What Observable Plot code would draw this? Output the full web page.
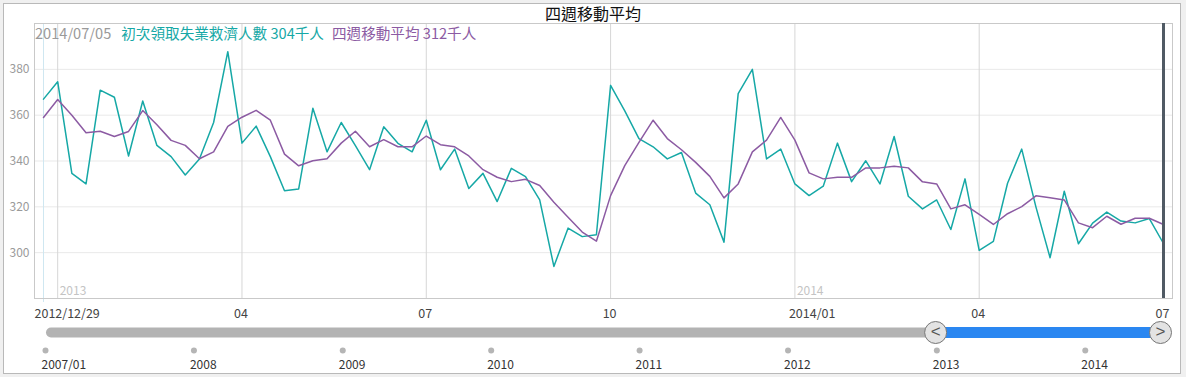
<!DOCTYPE html>
<html><head><meta charset="utf-8">
<script src="https://cdn.jsdelivr.net/npm/d3@7"></script>
<script src="https://cdn.jsdelivr.net/npm/@observablehq/plot@0.6"></script>
<style>
html,body{margin:0;padding:0;background:#f0f0f0;width:1186px;height:377px;overflow:hidden;font-family:"Noto Sans CJK TC","Noto Sans",sans-serif;}
#box{position:absolute;left:3px;top:3px;width:1176px;height:369px;border:1px solid #b9b9b9;background:#fff;}
#wrap{position:absolute;left:0;top:0;width:1186px;}
#title{height:20px;box-sizing:border-box;padding-top:5px;font-size:16px;line-height:17px;text-align:center;color:#111;}
#legend{position:absolute;left:35px;top:24px;font-size:14.6px;line-height:17px;white-space:nowrap;}
#legend span{margin-right:8px;}
svg{display:block;}
</style></head>
<body>
<div id="box"></div>
<div id="wrap">
  <div id="title">四週移動平均</div>
  <div id="main"></div>
  <div id="slider"></div>
  <div id="legend"></div>
</div>
<script>
// ---- data ----
const startWeek = "2012-12-29";
const claims = [
  367, 374.6, 334.6, 330, 370.9, 367.8, 342.2, 366.2, 346.8, 341.9,
  333.9, 340.9, 356.8, 387.7, 347.8, 355.2, 341.9, 327, 327.8, 363,
  344, 356.8, 346.7, 336.2, 354.9, 347.7, 344, 357.8, 336.2, 345.2,
  328, 334.6, 322.3, 336.8, 333.2, 323, 294, 310.7, 307, 307.8,
  373, 361.9, 349.8, 346.2, 340.9, 343.7, 326, 320.9, 304.6, 369.4,
  380, 340.9, 345.2, 330, 324.9, 329, 347.8, 331, 340.1, 330,
  350.7, 324.6, 319.1, 323, 310.1, 332.2, 301, 304.9, 330.3, 345.2,
  320, 297.8, 326.8, 303.9, 312.9, 317.7, 313.8, 313, 314.9, 304
];
const avg4 = [
  359, 366.8, 360, 352.3, 353, 350.7, 352.9, 362, 355.8, 349,
  346.8, 341, 344, 355.1, 359.1, 362.1, 357.8, 343, 337.9, 340.1,
  341, 347.8, 353, 346.2, 349.3, 346.2, 346.2, 350.9, 347.1, 346.2,
  342.2, 336.2, 332.9, 331, 332, 329.3, 322, 315.5, 309, 305,
  324.9, 338, 348.1, 357.8, 349.8, 344.9, 339.4, 333.3, 323.9, 330,
  344, 349.1, 359, 349.1, 334.8, 332.2, 332.9, 332.9, 337, 337,
  337.7, 337, 330.9, 330, 319.1, 320.9, 316.7, 312.3, 317, 320.1,
  324.8, 324, 323, 313, 310.9, 315.9, 312.4, 315, 315, 312.3
];
const yTicks = [300, 320, 340, 360, 380];
const xTickDates = ["2012-12-29", "2013-04-06", "2013-07-06", "2013-10-05", "2014-01-04", "2014-04-05", "2014-07-05"];
const xTickLabels = ["2012/12/29", "04", "07", "10", "2014/01", "04", "07"];
const gridDates = ["2013-01-05", "2013-04-06", "2013-07-06", "2013-10-05", "2014-01-04", "2014-04-05", "2014-07-05"];
const yearMarkDates = ["2013-01-05", "2014-01-04"];
const yearMarkLabels = ["2013", "2014"];
const sliderYears = ["2007-01-01", "2008-01-01", "2009-01-01", "2010-01-01", "2011-01-01", "2012-01-01", "2013-01-01", "2014-01-01"];
const sliderLabels = ["2007/01", "2008", "2009", "2010", "2011", "2012", "2013", "2014"];
const seriesNames = ["初次領取失業救濟人數", "四週移動平均"];
const unit = "千人";

const TEAL = "#16a8a6", PURPLE = "#8c5ba3";
const FONT = '"Noto Sans CJK TC","Noto Sans",sans-serif';

// ---- build ----
const d0 = new Date(startWeek + "T00:00:00Z");
const dates = claims.map((_, i) => d3.utcDay.offset(d0, 7 * i));
const rows = dates.map((d, i) => ({date: d, claims: claims[i], avg: avg4[i]}));
const P = s => new Date(s + "T00:00:00Z");
const xTicks = xTickDates.map((d, i) => ({date: P(d), label: xTickLabels[i], i}));
const lastDate = dates[dates.length - 1];
const Y0 = 280, Y1 = 400;
const tickText = {x: "date", y: () => Y0, text: "label", lineAnchor: "middle", dy: 15, fill: "#444", fontSize: 12.5};

const main = Plot.plot({
  width: 1186, height: 300,
  marginTop: 3, marginBottom: 22, marginLeft: 34, marginRight: 14,
  style: {background: "transparent", fontFamily: FONT},
  x: {type: "utc", domain: [d0, lastDate], insetLeft: 9, insetRight: 9, axis: null},
  y: {domain: [Y0, Y1], axis: null},
  marks: [
    Plot.ruleY(yTicks, {stroke: "#e9e9e9"}),
    Plot.ruleX(gridDates.map(P), {stroke: "#d6d6d6"}),
    Plot.ruleX([d0], {stroke: "#cfe7f1", insetBottom: -4}),
    Plot.frame({stroke: "#c9c9c9"}),
    Plot.text(yTicks, {y: d => d, frameAnchor: "left", textAnchor: "end", dx: -5, text: d => String(d), fill: "#9a9a9a", fontSize: 12}),
    Plot.text(yearMarkDates.map((d, i) => ({date: P(d), label: yearMarkLabels[i]})), {x: "date", y: () => Y0, text: "label", lineAnchor: "middle", dy: -7, dx: 2, textAnchor: "start", fill: "#c4c4c4", fontSize: 12}),
    Plot.text(xTicks.filter(d => d.i === 0), {...tickText, textAnchor: "start", dx: -9}),
    Plot.text(xTicks.filter(d => d.i === 4), {...tickText, textAnchor: "start", dx: -6}),
    Plot.text(xTicks.filter(d => d.i !== 0 && d.i !== 4), {...tickText, textAnchor: "middle", dx: -1}),
    Plot.line(rows, {x: "date", y: "claims", stroke: TEAL, strokeWidth: 1.5}),
    Plot.line(rows, {x: "date", y: "avg", stroke: PURPLE, strokeWidth: 1.5}),
    Plot.ruleX([lastDate], {stroke: "#505a64", strokeWidth: 3})
  ]
});
document.getElementById("main").appendChild(main);

// legend
const fmt = d3.utcFormat("%Y/%m/%d");
document.getElementById("legend").innerHTML =
  `<span style="color:#9a9a9a">${fmt(lastDate)}</span><span style="color:${TEAL};margin-left:2px">${seriesNames[0]} ${Math.round(claims[claims.length-1])}${unit}</span><span style="color:${PURPLE}">${seriesNames[1]} ${Math.round(avg4[avg4.length-1])}${unit}</span>`;

// slider
const yrs = sliderYears.map((d, i) => ({date: P(d), label: sliderLabels[i]}));
const slider = Plot.plot({
  width: 1186, height: 57,
  margin: 0,
  style: {background: "transparent", fontFamily: FONT},
  x: {type: "utc", domain: [P(sliderYears[0]), lastDate], range: [45, 1160], axis: null},
  y: {type: "identity", axis: null},
  marks: [
    Plot.ruleY([12], {x1: () => P(sliderYears[0]), x2: () => d0, stroke: "#b3b3b3", strokeWidth: 10, strokeLinecap: "round", dx: 6}),
    Plot.ruleY([12], {x1: () => d0, x2: () => lastDate, stroke: "#2a87f1", strokeWidth: 11}),
    Plot.dot(yrs, {x: "date", y: () => 30, r: 3, fill: "#b5b5b5", stroke: null}),
    Plot.text(yrs, {x: "date", y: () => 45, text: "label", textAnchor: "start", dx: -4, fill: "#333", fontSize: 12}),
    Plot.dot([d0, lastDate], {x: d => d, y: () => 12, r: 11, fill: "#e3e3e3", stroke: "#767676", strokeWidth: 1}),
    Plot.text([{d: d0, t: "<"}, {d: lastDate, t: ">"}], {x: "d", y: () => 12, text: "t", fill: "#555", fontSize: 17, fontFamily: "Liberation Sans", dy: -1})
  ]
});
document.getElementById("slider").appendChild(slider);
</script>
</body></html>
